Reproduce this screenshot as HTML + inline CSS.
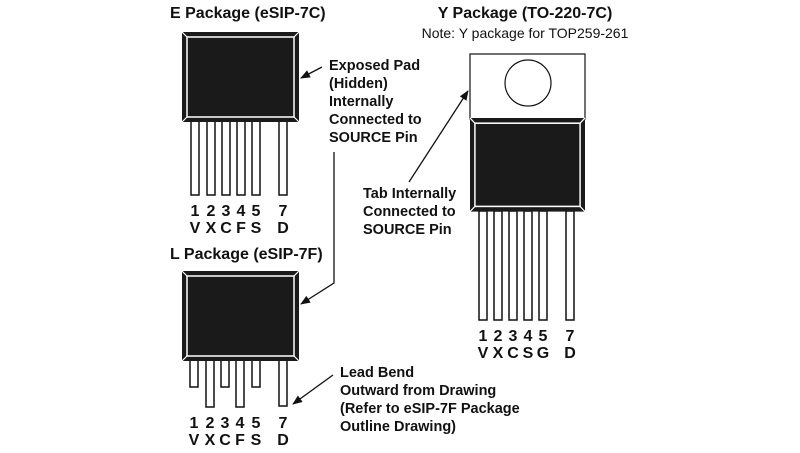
<!DOCTYPE html>
<html><head><style>
body{margin:0;background:#fff}
svg text{font-family:"Liberation Sans",Arial,sans-serif;fill:#111}
.b{font-weight:bold;font-size:14.5px}
.t{font-weight:bold;font-size:16px}
.p{font-weight:bold;font-size:16px;text-anchor:middle}
</style></head><body>
<svg width="800" height="448" viewBox="0 0 800 448" xmlns="http://www.w3.org/2000/svg">
<defs>
<marker id="ah" markerWidth="10" markerHeight="8" refX="9" refY="4" orient="auto" markerUnits="userSpaceOnUse"><path d="M0,0 L10,4 L0,8 Z" fill="#111"/></marker>
<g id="body">
<rect x="0" y="0" width="117" height="90" fill="#1a1a1a"/>
<rect x="5" y="5" width="107" height="80" fill="none" stroke="#fff" stroke-width="1.5"/>
<path d="M0,0L5,5M117,0L112,5M0,90L5,85M117,90L112,85" stroke="#fff" stroke-width="1.2"/>
</g>
</defs>
<!-- E package -->
<text class="t" x="170" y="18">E Package (eSIP-7C)</text>
<g fill="#fff" stroke="#111" stroke-width="1.5">
<rect x="191" y="121" width="8" height="74"/><rect x="207" y="121" width="8" height="74"/><rect x="222" y="121" width="8" height="74"/><rect x="237" y="121" width="8" height="74"/><rect x="252" y="121" width="8" height="74"/><rect x="279" y="121" width="8" height="74"/>
</g>
<use href="#body" x="182" y="32"/>
<g class="p"><text x="195" y="216">1</text><text x="211" y="216">2</text><text x="226" y="216">3</text><text x="241" y="216">4</text><text x="256" y="216">5</text><text x="283" y="216">7</text>
<text x="195" y="233">V</text><text x="211" y="233">X</text><text x="226" y="233">C</text><text x="241" y="233">F</text><text x="256" y="233">S</text><text x="283" y="233">D</text></g>
<g class="b"><text x="329" y="70">Exposed Pad</text><text x="329" y="88">(Hidden)</text><text x="329" y="106">Internally</text><text x="329" y="124">Connected to</text><text x="329" y="142">SOURCE Pin</text></g>
<line x1="322" y1="67" x2="301" y2="78" stroke="#111" stroke-width="1.3" marker-end="url(#ah)"/>
<polyline points="334,152 334,283 301,304" fill="none" stroke="#111" stroke-width="1.3" marker-end="url(#ah)"/>
<!-- L package -->
<text class="t" x="170" y="259">L Package (eSIP-7F)</text>
<g fill="#fff" stroke="#111" stroke-width="1.5">
<rect x="190" y="358" width="8" height="29"/><rect x="206" y="358" width="8" height="49"/><rect x="221" y="358" width="8" height="29"/><rect x="236" y="358" width="8" height="49"/><rect x="252" y="358" width="8" height="29"/><rect x="279" y="358" width="8" height="48"/>
</g>
<use href="#body" x="182" y="271"/>
<g class="p"><text x="194" y="428">1</text><text x="210" y="428">2</text><text x="225" y="428">3</text><text x="240" y="428">4</text><text x="256" y="428">5</text><text x="283" y="428">7</text>
<text x="194" y="445">V</text><text x="210" y="445">X</text><text x="225" y="445">C</text><text x="240" y="445">F</text><text x="256" y="445">S</text><text x="283" y="445">D</text></g>
<g class="b"><text x="340" y="377">Lead Bend</text><text x="340" y="395">Outward from Drawing</text><text x="340" y="413">(Refer to eSIP-7F Package</text><text x="340" y="431">Outline Drawing)</text></g>
<line x1="333" y1="375" x2="293" y2="404" stroke="#111" stroke-width="1.3" marker-end="url(#ah)"/>
<!-- Y package -->
<text class="t" x="525" y="18" text-anchor="middle">Y Package (TO-220-7C)</text>
<text x="525" y="38" text-anchor="middle" font-size="14">Note: Y package for TOP259-261</text>
<rect x="470" y="54" width="115" height="65" fill="#fff" stroke="#111" stroke-width="1.2"/>
<circle cx="528" cy="83" r="23" fill="#fff" stroke="#111" stroke-width="1.2"/>
<g fill="#fff" stroke="#111" stroke-width="1.5">
<rect x="479" y="211" width="8" height="109"/><rect x="494" y="211" width="8" height="109"/><rect x="509" y="211" width="8" height="109"/><rect x="524" y="211" width="8" height="109"/><rect x="539" y="211" width="8" height="109"/><rect x="566" y="211" width="8" height="109"/>
</g>
<g transform="translate(470,118) scale(0.983,1.04)"><use href="#body"/></g>
<g class="p"><text x="483" y="341">1</text><text x="498" y="341">2</text><text x="513" y="341">3</text><text x="528" y="341">4</text><text x="543" y="341">5</text><text x="570" y="341">7</text>
<text x="483" y="358">V</text><text x="498" y="358">X</text><text x="513" y="358">C</text><text x="528" y="358">S</text><text x="543" y="358">G</text><text x="570" y="358">D</text></g>
<g class="b"><text x="363" y="198">Tab Internally</text><text x="363" y="216">Connected to</text><text x="363" y="234">SOURCE Pin</text></g>
<line x1="409" y1="182" x2="468" y2="91" stroke="#111" stroke-width="1.3" marker-end="url(#ah)"/>
</svg>
</body></html>
